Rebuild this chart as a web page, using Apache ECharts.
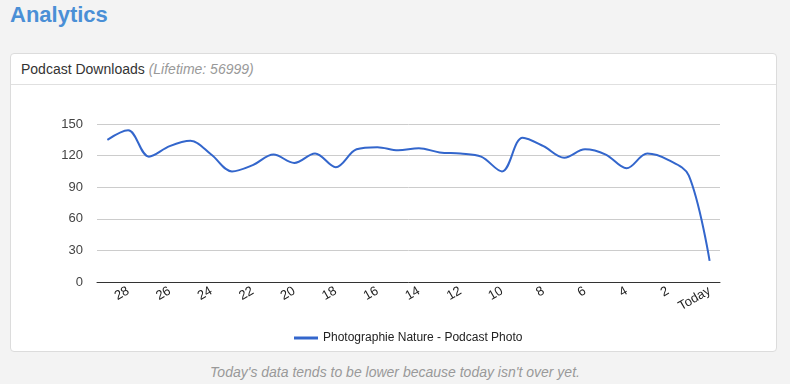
<!DOCTYPE html>
<html>
<head>
<meta charset="utf-8">
<script src="https://cdn.jsdelivr.net/npm/echarts@6/dist/echarts.min.js"></script>
<style>
  html, body { margin:0; padding:0; width:790px; height:384px; overflow:hidden; background:#f3f3f3; font-family:"Liberation Sans", Arial, sans-serif; }
  #title { position:absolute; left:10px; top:2px; font-size:22px; font-weight:bold; color:#4a8fd6; }
  #panel { position:absolute; left:10px; top:53px; width:765px; height:297px; background:#fff; border:1px solid #dcdcdc; border-radius:4px; }
  #phead { position:absolute; left:0; top:0; right:0; height:30px; border-bottom:1px solid #e0e0e0; font-size:14px; color:#333; line-height:30px; padding-left:10px; }
  #phead i { color:#999; }
  #foot { position:absolute; left:0; width:790px; top:364px; text-align:center; font-size:14px; font-style:italic; color:#999; }
  #chart { position:absolute; left:0; top:0; width:790px; height:384px; }
</style>
</head>
<body>
<div id="title">Analytics</div>
<div id="panel"><div id="phead">Podcast Downloads <i>(Lifetime: 56999)</i></div></div>
<div id="foot">Today's data tends to be lower because today isn't over yet.</div>
<div id="chart"></div>
<script>
const categories = ["29","28","27","26","25","24","23","22","21","20","19","18","17","16","15","14","13","12","11","10","9","8","7","6","5","4","3","2","1","Today"];
const downloads = [135,144,119,129,134,121,105,111,121,113,122,109,126,128,125,127,123,122,119,105,137,129,118,126,121,108,122,116,101,20];
const yTicks = { min: 0, max: 150, interval: 30 };
const seriesName = "Photographie Nature - Podcast Photo";

const chart = echarts.init(document.getElementById('chart'), null, { renderer: 'canvas' });
chart.setOption({
  backgroundColor: 'transparent',
  animation: false,
  textStyle: { fontFamily: '"Liberation Sans", Arial, sans-serif' },
  grid: { left: 97, right: 70, top: 124, bottom: 102 },
  legend: {
    top: 327, left: 289,
    data: [{ name: seriesName, icon: 'rect' }],
    itemWidth: 24, itemHeight: 3, itemGap: 6,
    textStyle: { fontSize: 12, color: '#222' }
  },
  xAxis: {
    type: 'category',
    data: categories,
    boundaryGap: true,
    axisLine: { lineStyle: { color: '#333', width: 1 } },
    axisTick: { show: false },
    axisLabel: {
      interval: (i) => i % 2 === 1,
      rotate: 30, margin: 8,
      fontSize: 13, color: '#222'
    }
  },
  yAxis: {
    type: 'value',
    min: yTicks.min, max: yTicks.max, interval: yTicks.interval,
    axisLine: { show: false },
    axisTick: { show: false },
    axisLabel: { fontSize: 13, color: '#444', margin: 14 },
    splitLine: { lineStyle: { color: '#cccccc' } }
  },
  series: [{
    name: seriesName,
    type: 'line',
    data: downloads,
    smooth: 0.35,
    showSymbol: false,
    lineStyle: { color: '#3366cc', width: 2 },
    itemStyle: { color: '#3366cc' }
  }]
});
</script>
</body>
</html>
